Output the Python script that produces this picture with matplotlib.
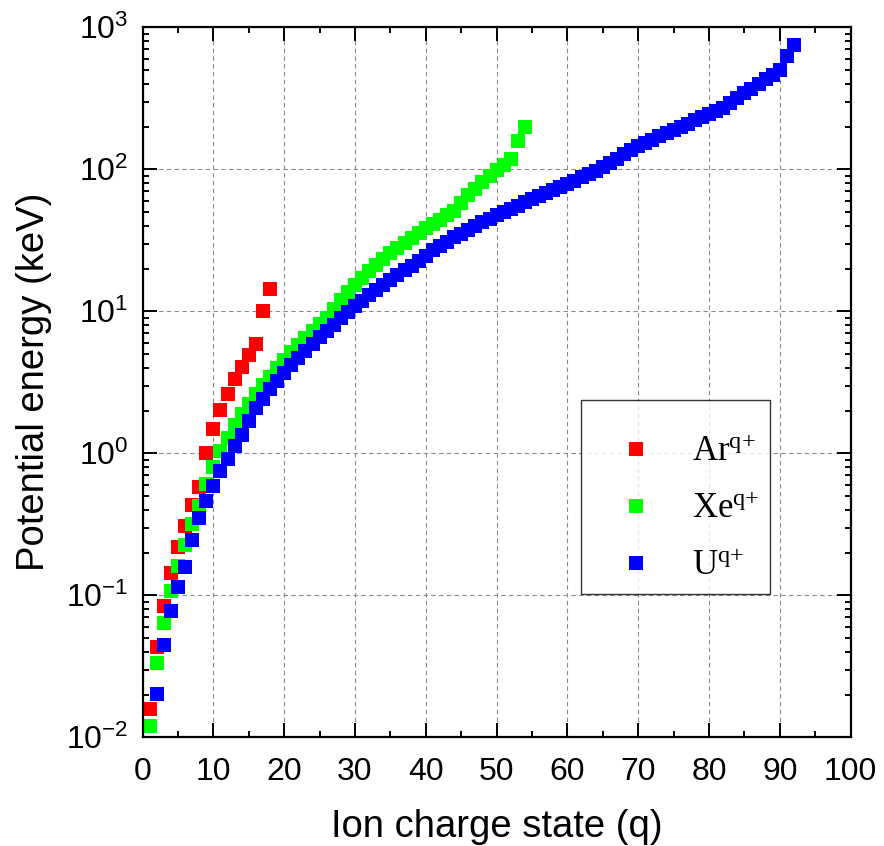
import matplotlib
matplotlib.use("Agg")
import matplotlib.pyplot as plt
from matplotlib.ticker import MultipleLocator, LogLocator, LogFormatterMathtext, NullFormatter
import numpy as np

plt.rcParams['font.family'] = ['Liberation Sans', 'DejaVu Sans']
plt.rcParams['mathtext.default'] = 'regular'

# cumulative ionisation potential energy (keV) for each charge state q
q_ar = np.arange(1, 19)
e_ar = [0.0158, 0.0434, 0.0841, 0.1439, 0.2190, 0.3100, 0.4343, 0.5778,
        1.0002, 1.4789, 2.0179, 2.6361, 3.3222, 4.0780, 4.9327, 5.8508,
        9.9717, 14.398]

q_xe = np.arange(1, 55)
e_xe = [0.0121, 0.0331, 0.0642, 0.1064, 0.1605, 0.2272, 0.3188, 0.4247,
        0.6046, 0.8066, 1.0356, 1.2906, 1.5716, 1.8856, 2.2286, 2.6026,
        3.0066, 3.4406, 3.9896, 4.5716, 5.1876, 5.8376, 6.5376, 7.2736,
        8.0916, 8.9486, 10.442, 12.013, 13.666, 15.408, 17.234, 19.153,
        21.177, 23.295, 25.545, 27.895, 30.342, 32.891, 35.559, 38.340,
        41.230, 44.227, 47.527, 50.922, 58.032, 65.452, 73.192, 81.262,
        89.612, 98.472, 108.00, 117.76, 158.03, 199.33]

q_u = np.arange(2, 93)
e_u = [0.0203, 0.045, 0.078, 0.114, 0.158, 0.246, 0.349, 0.465, 0.593,
       0.748, 0.914, 1.12, 1.35, 1.69, 2.07, 2.43, 2.85, 3.25, 3.70,
       4.18, 4.68, 5.25, 5.85, 6.55, 7.28, 8.07, 8.93, 9.89, 10.9,
       11.9, 13.0, 14.1, 15.3, 16.5, 17.9, 19.4, 21.0, 22.7, 24.5,
       27.0, 29.0, 31.0, 33.1, 35.3, 37.6, 39.9, 42.3, 44.8, 47.4,
       50.0, 52.8, 55.6, 58.6, 61.7, 64.9, 68.1, 71.6, 75.3, 79.2,
       83.3, 87.7, 92.4, 97.5, 104, 111, 119, 128, 137, 145,
       153, 162, 171, 179, 188, 199, 210, 221, 232, 244,
       258, 270, 293, 318, 343, 370, 399, 430, 464, 498,
       625, 755]

series = [
    (q_ar, e_ar, '#ff0000', r'Ar$^{\mathregular{q{+}}}$'),
    (q_xe, e_xe, '#00ff00', r'Xe$^{\mathregular{q{+}}}$'),
    (q_u, e_u, '#0000ff', r'U$^{\mathregular{q{+}}}$'),
]

fig = plt.figure(figsize=(8.84, 8.46), dpi=100)
ax = fig.add_axes([0.1613, 0.1285, 0.8009, 0.8392])

for q, e, col, lab in series:
    ax.plot(q, e, 's', color=col, markersize=9.4, markeredgewidth=0, label=lab)

ax.set_yscale('log')
ax.set_xlim(0, 100)
ax.set_ylim(1e-2, 1e3)

ax.xaxis.set_major_locator(MultipleLocator(10))
ax.xaxis.set_minor_locator(MultipleLocator(5))
ax.yaxis.set_major_locator(LogLocator(base=10))
ax.yaxis.set_minor_locator(LogLocator(base=10, subs=np.arange(2, 10)))
ax.yaxis.set_major_formatter(LogFormatterMathtext())
ax.yaxis.set_minor_formatter(NullFormatter())

ax.tick_params(which='both', direction='in', top=True, right=True, width=1.4)
ax.tick_params(which='major', length=10, labelsize=23)
ax.tick_params(axis='x', which='major', pad=14)
ax.tick_params(axis='y', which='major', pad=10)
ax.tick_params(which='minor', length=4.5)
for sp in ax.spines.values():
    sp.set_linewidth(1.6)

ax.grid(True, which='major', color='#8c8c8c', linestyle=(0, (4, 3)), linewidth=0.8)
ax.set_axisbelow(True)

ax.set_xlabel('Ion charge state (q)', fontsize=27.5, labelpad=16)
ax.set_ylabel('Potential energy (keV)', fontsize=27.5, labelpad=10)

# a tiny blank title gives the extra room above the first entry
leg = ax.legend(loc='upper left', bbox_to_anchor=(0.619, 0.475),
                prop={'family': ['Liberation Serif', 'DejaVu Serif'], 'size': 25},
                frameon=True, fancybox=False, shadow=False,
                borderpad=0.3, handlelength=2.6, handletextpad=0.3,
                labelspacing=0.7, borderaxespad=0, markerscale=1.0,
                title=' ', title_fontsize=1)
leg.get_frame().set_edgecolor('black')
leg.get_frame().set_linewidth(1.0)

fig.savefig('out.png', dpi=100)
